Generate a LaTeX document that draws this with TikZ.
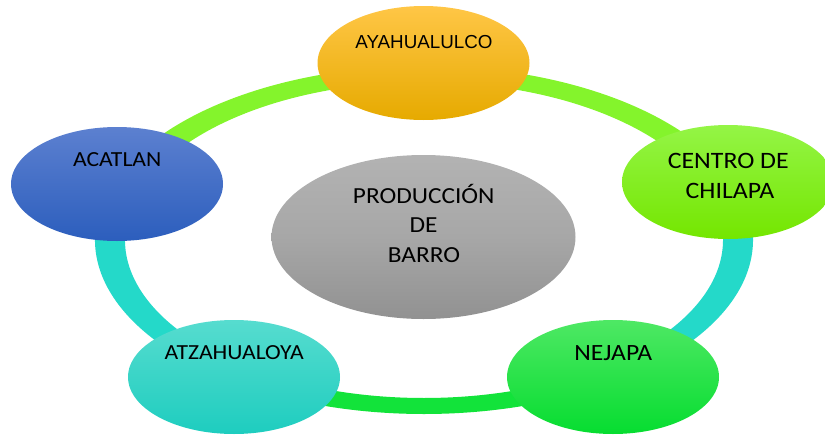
\documentclass[tikz,border=0pt]{standalone}
\usepackage{fontspec}
\usetikzlibrary{shapes.geometric}
\newfontfamily\calfont[FakeStretch=1.1]{Carlito}
\newfontfamily\arialfont{Liberation Sans}
\definecolor{ringlime}{HTML}{84F42C}
\definecolor{ringturq}{HTML}{24D9C9}
\definecolor{ringgreen}{HTML}{12E33A}
\newcommand\ringseg[3]{%
  \fill[#1] ([shift={(424,240)}]#2:329 and 174) arc[start angle=#2, end angle=#3, x radius=329, y radius=174]
    -- ([shift={(424,240)}]#3:299 and 158) arc[start angle=#3, end angle=#2, x radius=299, y radius=158] -- cycle;}
\tikzset{
  blob/.style={ellipse, minimum width=212pt, minimum height=114pt, inner sep=0pt},
  lbl/.style={anchor=base, inner sep=0pt, text=black},
}
\begin{document}
\begin{tikzpicture}[x=1pt, y=-1pt]
\useasboundingbox (0,0) rectangle (825,434);
% ring (angles measured downward, since y points down)
\ringseg{ringlime}{-90}{-161}
\ringseg{ringlime}{-19}{-90}
\ringseg{ringturq}{55}{-20}
\ringseg{ringgreen}{127}{53}
\ringseg{ringturq}{-159}{-235}
% nodes
\node[blob, minimum width=304pt, minimum height=164pt, top color=gray!60, bottom color=gray!86, middle color=gray!69] (prod) at (423.5,237) {};
\node[blob, top color={rgb,255:red,255;green,198;blue,70}, middle color={rgb,255:red,255;green,192;blue,0}, bottom color={rgb,255:red,230;green,170;blue,0}] (aya) at (423.5,63) {};
\node[blob, top color={rgb,255:red,148;green,245;blue,70}, middle color={rgb,255:red,128;green,240;blue,0}, bottom color={rgb,255:red,116;green,230;blue,0}] (cen) at (728,182) {};
\node[blob, top color={rgb,255:red,78;green,232;blue,100}, middle color={rgb,255:red,20;green,235;blue,60}, bottom color={rgb,255:red,6;green,221;blue,48}] (nej) at (613,377) {};
\node[blob, top color={rgb,255:red,86;green,220;blue,207}, middle color={rgb,255:red,42;green,221;blue,203}, bottom color={rgb,255:red,30;green,205;blue,191}] (atz) at (234,377) {};
\node[blob, top color={rgb,255:red,92;green,128;blue,208}, middle color={rgb,255:red,58;green,108;blue,200}, bottom color={rgb,255:red,44;green,94;blue,189}] (aca) at (117,184) {};
% labels
\node[lbl, font=\arialfont\fontsize{18.8}{22}\selectfont] (tAya) at (424,48.3) {AYAHUALULCO};
\node[lbl, font=\calfont\fontsize{21.5}{26}\selectfont] (tAca) at (117.2,166) {ACATLAN};
\node[lbl, font=\calfont\fontsize{23.5}{28}\selectfont] (tCen1) at (728.3,168.3) {CENTRO DE};
\node[lbl, font=\calfont\fontsize{23.5}{28}\selectfont] (tCen2) at (730,198.3) {CHILAPA};
\node[lbl, font=\calfont\fontsize{21.5}{26}\selectfont] (tAtz) at (234.2,359) {ATZAHUALOYA};
\node[lbl, font=\calfont\fontsize{23.3}{28}\selectfont] (tNej) at (613.3,360) {NEJAPA};
\node[lbl, font=\calfont\fontsize{23}{28}\selectfont] (tProd1) at (423.7,203.3) {PRODUCCIÓN};
\node[lbl, font=\calfont\fontsize{23}{28}\selectfont] (tProd2) at (423.5,232.8) {DE};
\node[lbl, font=\calfont\fontsize{23}{28}\selectfont] (tProd3) at (424,262.3) {BARRO};
\end{tikzpicture}
\end{document}
